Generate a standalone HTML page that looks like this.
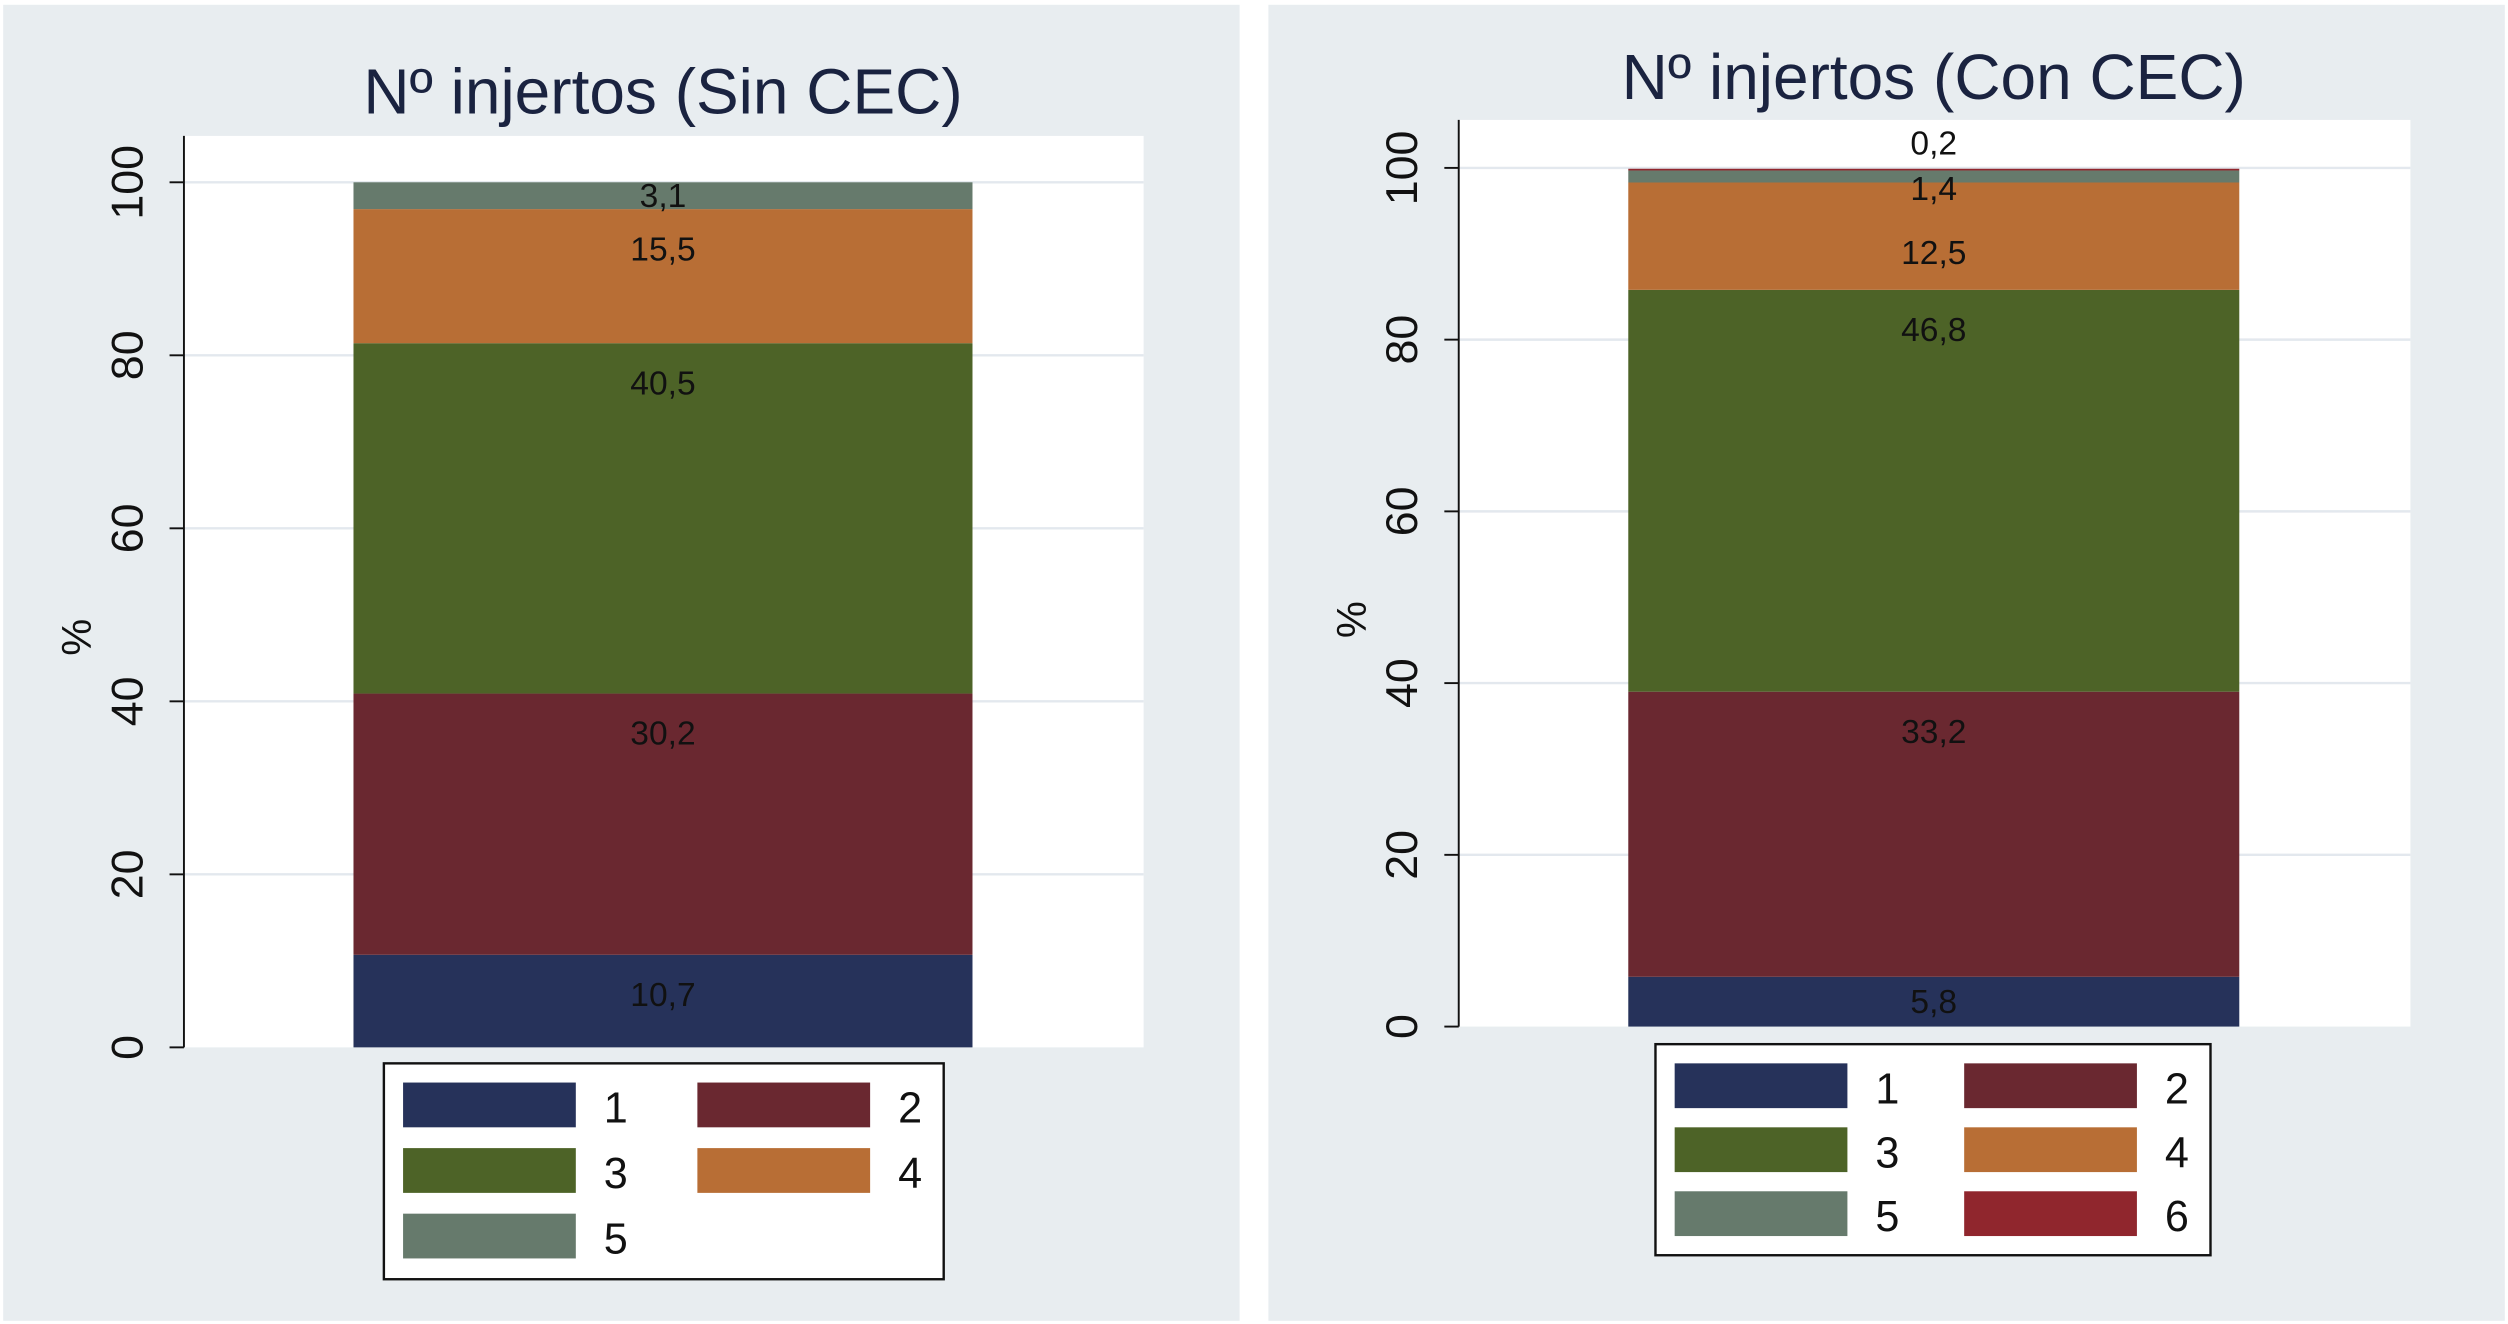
<!DOCTYPE html>
<html><head><meta charset="utf-8"><style>
html,body{margin:0;padding:0;background:#fff;}
svg{display:block;font-family:"Liberation Sans",Arial,sans-serif;}
</style></head><body>
<svg id="svg" width="2508" height="1324" viewBox="0 0 1568 828" preserveAspectRatio="none" xmlns="http://www.w3.org/2000/svg"></svg>
<script>
const categories = ["1","2","3","4","5","6"];
const leftValues = [10.7, 30.2, 40.5, 15.5, 3.1];
const leftLabels = ["10,7","30,2","40,5","15,5","3,1"];
const rightValues = [5.8, 33.2, 46.8, 12.5, 1.4, 0.2];
const rightLabels = ["5,8","33,2","46,8","12,5","1,4","0,2"];
const yTicks = [0, 20, 40, 60, 80, 100];
const colors = ["#26325a","#6a2830","#4d6327","#b86e35","#667a6c","#90262d"];

const NS = "http://www.w3.org/2000/svg";
const svg = document.getElementById('svg');
function mk(tag, attrs, parent, text){
  const e = document.createElementNS(NS, tag);
  for (const k in attrs) e.setAttribute(k, attrs[k]);
  if (text !== undefined) e.textContent = text;
  (parent || svg).appendChild(e);
  return e;
}

function panel(cfg, values, labels, key){
  const g = mk('g', {});
  
  
  const bg = mk('rect', {x:cfg.px, y:cfg.py, width:cfg.pw, height:cfg.ph, fill:'#e8edf0'}, g);
  
  
  const t = mk('text', {x:(cfg.bx0+cfg.bx1)/2, y:cfg.titleY, 'text-anchor':'middle', 'font-size':40, fill:'#1a2340'}, g, cfg.title);
  
  
  const plot = mk('rect', {x:cfg.ax, y:cfg.top, width:cfg.right-cfg.ax, height:cfg.y0-cfg.top, fill:'#ffffff'}, g);
  
  
  const yScale = v => cfg.y0 - (cfg.y0 - cfg.y100) * v / 100;
  yTicks.forEach(v => {
    const y = yScale(v);
    if (v > 0) {
      const gl = mk('line', {x1:cfg.ax, x2:cfg.right, y1:y, y2:y, stroke:'#e3e8ee', 'stroke-width':1.5}, g);
      
      
    }
    const tk = mk('line', {x1:cfg.ax-9, x2:cfg.ax, y1:y, y2:y, stroke:'#111', 'stroke-width':1.2}, g);
    
    
    const tl = mk('text', {x:0, y:0, transform:`translate(${cfg.ax-26},${y}) rotate(-90)`, 'text-anchor':'middle', 'font-size':28, fill:'#111'}, g, String(v));
    
    
  });
  const yl = mk('text', {x:0, y:0, transform:`translate(${cfg.ax-58},${(cfg.y0+cfg.y100)/2+14}) rotate(-90)`, 'text-anchor':'middle', 'font-size':26, fill:'#111'}, g, '%');
  
  
  const ax = mk('line', {x1:cfg.ax, x2:cfg.ax, y1:cfg.top, y2:cfg.y0, stroke:'#111', 'stroke-width':1.2}, g);
  
  
  let cum = 0;
  const segs = [];
  values.forEach((v, i) => {
    const yb = yScale(cum), yt = yScale(cum + v);
    cum += v;
    const r = mk('rect', {x:cfg.bx0, y:yt, width:cfg.bx1-cfg.bx0, height:yb-yt, fill:colors[i]}, g);
    
    
    const h = yb - yt;
    let ly;
    if (h < 10 && i === values.length - 1) ly = yt - 16;
    else if (h < 10) ly = yb + 4;
    else ly = yt + Math.min(25, h/2);
    segs.push(ly);
  });
  for (let i = values.length - 2; i >= 0; i--) {
    if (segs[i] - segs[i+1] < 27) segs[i] = segs[i+1] + 40;
  }
  values.forEach((v, i) => {
    const lt = mk('text', {x:(cfg.bx0+cfg.bx1)/2, y:segs[i]+7, 'text-anchor':'middle', 'font-size':21, fill:'#111'}, g, labels[i]);
    
    
  });
  const lg = mk('g', {}, g);
  
  
  mk('rect', {x:cfg.lx, y:cfg.ly, width:cfg.lw, height:cfg.lh, fill:'#fff', stroke:'#111', 'stroke-width':1.5}, lg);
  values.forEach((v, i) => {
    const col = i % 2, row = Math.floor(i / 2);
    const sx = cfg.lx + 12 + col * cfg.colStep, sy = cfg.ly + 12 + row * cfg.rowStep;
    const sw = mk('rect', {x:sx, y:sy, width:108, height:28, fill:colors[i]}, lg);
    
    
    const tx = mk('text', {x:sx + 133, y:sy + 25, 'text-anchor':'middle', 'font-size':27, fill:'#111'}, lg, categories[i]);
    
    
  });
}

panel({px:2, py:3, pw:773, ph:823, title:'Nº injertos (Sin CEC)', titleY:71,
  ax:115, right:715, top:85, y0:655, y100:114, bx0:221, bx1:608,
  lx:240, ly:665, lw:350, lh:135, colStep:184, rowStep:41}, leftValues, leftLabels, 'left');
panel({px:793, py:3, pw:773, ph:823, title:'Nº injertos (Con CEC)', titleY:62,
  ax:912, right:1507, top:75, y0:642, y100:105, bx0:1018, bx1:1400,
  lx:1035, ly:653, lw:347, lh:132, colStep:181, rowStep:40}, rightValues, rightLabels, 'right');
</script>
</body></html>
